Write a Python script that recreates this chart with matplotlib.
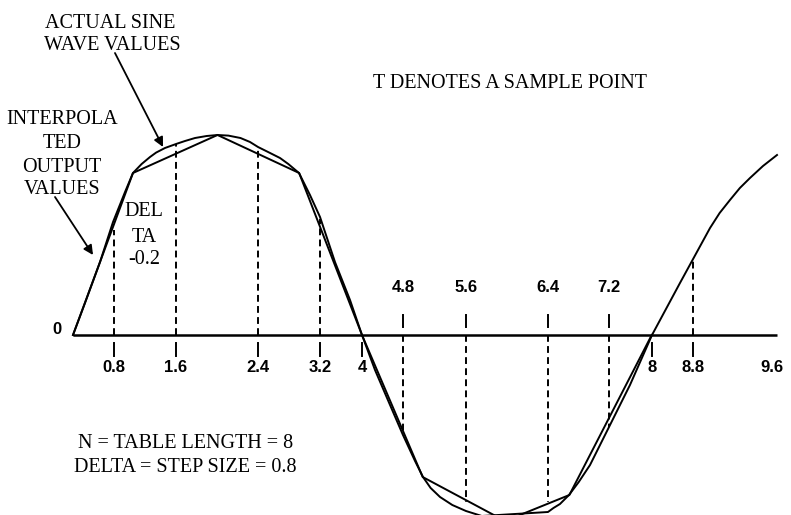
import matplotlib
matplotlib.use("Agg")
import matplotlib.pyplot as plt

# ---- data (chart units: x in table steps, y in peak amplitude) ----
sine_x = [0.00, 0.166, 0.374, 0.554, 0.720, 0.830, 0.95, 1.066, 1.15, 1.273, 1.426, 1.55,
          1.689, 1.85, 2.000, 2.15, 2.318, 2.45, 2.561, 2.70, 2.865, 2.98, 3.128, 3.280,
          3.419, 3.626, 3.834, 4.000,
          4.180, 4.388, 4.567, 4.734, 4.844, 4.95, 5.080, 5.25, 5.439, 5.702, 5.85, 5.979,
          6.15, 6.325, 6.45, 6.574, 6.65, 6.740, 6.865, 7.00, 7.156, 7.419, 7.709, 8.014,
          8.401, 8.817, 8.95, 9.093, 9.23, 9.370, 9.55, 9.744]
sine_y = [0.00, 0.16, 0.365, 0.565, 0.715, 0.81, 0.855, 0.89, 0.912, 0.935, 0.955, 0.97,
          0.985, 0.995, 1.00, 0.997, 0.985, 0.965, 0.94, 0.915, 0.885, 0.855, 0.81, 0.70,
          0.59, 0.365, 0.175, 0.00,
          -0.175, -0.35, -0.50, -0.63, -0.71, -0.765, -0.81, -0.85, -0.88, -0.91, -0.922, -0.93,
          -0.928, -0.92, -0.905, -0.885, -0.865, -0.845, -0.80, -0.735, -0.65, -0.46, -0.25, 0.00,
          0.26, 0.535, 0.61, 0.675, 0.735, 0.785, 0.845, 0.90]

table_x = [0.00, 0.83, 2.00, 3.13, 4.00, 4.84, 5.98, 6.87, 8.01]
table_y = [0.00, 0.81, 1.00, 0.81, 0.00, -0.71, -0.93, -0.80, 0.00]

sample_labels = ["0.8", "1.6", "2.4", "3.2", "4", "4.8", "5.6", "6.4", "7.2", "8", "8.8", "9.6"]
sample_pos = [0.568, 1.426, 2.561, 3.419, 4.00, 4.567, 5.439, 6.574, 7.419, 8.014, 8.581, 9.675]
sample_val = [0.525, 0.955, 0.94, 0.58, 0.0, -0.50, -0.835, -0.835, -0.46, 0.0, 0.37, None]

axis_end = 9.744

fig = plt.figure(figsize=(7.91, 5.15), dpi=100)
ax = fig.add_axes([0, 0, 1, 1])
ax.set_xlim(-73 / 72.25, (791 - 73) / 72.25)
ax.set_ylim(-180 / 200, 335 / 200)
ax.axis("off")

serif = "Liberation Serif"
sans = "Liberation Sans"
tfs = 12

# horizontal axis
ax.plot([0, axis_end], [0, 0], color="black", lw=1.8, solid_capstyle="butt")

# curves
ax.plot(sine_x, sine_y, color="black", lw=1.4, solid_joinstyle="round")
ax.plot(table_x, table_y, color="black", lw=1.4, solid_joinstyle="miter")

# sample points: dashed lines, ticks, labels
for lab, x, v in zip(sample_labels, sample_pos, sample_val):
    if v is None:
        ax.text(x, -0.165, lab, ha="center", va="center", fontsize=tfs,
                fontweight="bold", family=sans)
        continue
    if v >= 0:
        if v > 0:
            ax.plot([x, x], [0, v], color="black", lw=1.4, linestyle=(0, (3.5, 2.2)))
        ax.plot([x, x], [-0.04, -0.105], color="black", lw=1.4)
        ax.text(x, -0.165, lab, ha="center", va="center", fontsize=tfs,
                fontweight="bold", family=sans)
    else:
        ax.plot([x, x], [0, v], color="black", lw=1.4, linestyle=(0, (3.5, 2.2)))
        ax.plot([x, x], [0.04, 0.10], color="black", lw=1.4)
        ax.text(x, 0.235, lab, ha="center", va="center", fontsize=tfs,
                fontweight="bold", family=sans)

ax.text(-0.221, 0.025, "0", ha="center", va="center", fontsize=tfs,
        fontweight="bold", family=sans)

# annotations
fs = 14.5
ax.text(0.512, 1.56, "ACTUAL SINE", ha="center", va="center", fontsize=fs, family=serif)
ax.text(0.54, 1.45, "WAVE VALUES", ha="center", va="center", fontsize=fs, family=serif)
ax.text(4.152, 1.26, "T DENOTES A SAMPLE POINT", ha="left", va="center",
        fontsize=fs, family=serif)
for t, y in zip(["INTERPOLA", "TED", "OUTPUT", "VALUES"], [1.075, 0.96, 0.84, 0.725]):
    ax.text(-0.152, y, t, ha="center", va="center", fontsize=fs, family=serif)
for t, y in zip(["DEL", "TA", "-0.2"], [0.615, 0.49, 0.38]):
    ax.text(0.98, y, t, ha="center", va="center", fontsize=fs, family=serif)
ax.text(1.564, -0.545, "N = TABLE LENGTH = 8", ha="center", va="center",
        fontsize=fs, family=serif)
ax.text(1.55, -0.665, "DELTA = STEP SIZE = 0.8", ha="center", va="center",
        fontsize=fs, family=serif)

arrow = dict(arrowstyle="-|>", lw=1.3, color="black", mutation_scale=14,
             shrinkA=0, shrinkB=0)
ax.annotate("", xy=(1.246, 0.94), xytext=(0.581, 1.41), arrowprops=arrow)
ax.annotate("", xy=(0.277, 0.40), xytext=(-0.249, 0.69), arrowprops=arrow)

fig.savefig("out.png", dpi=100)
